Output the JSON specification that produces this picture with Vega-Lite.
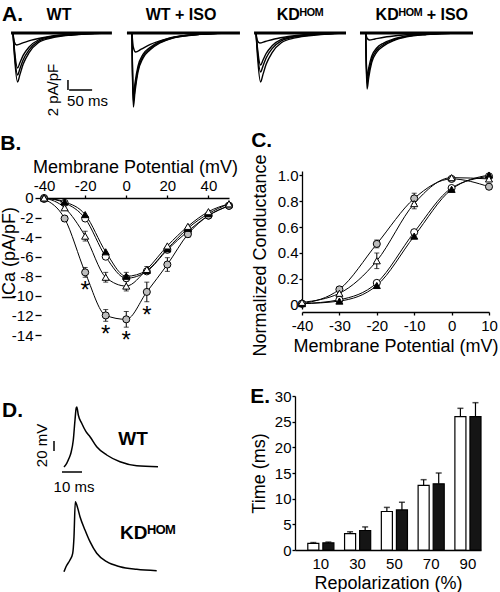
{
"$schema": "https://vega.github.io/schema/vega-lite/v6.json",
"padding": 0,
"config": {
 "view": {"stroke": null},
 "font": "Liberation Sans",
 "axis": {"labelFontSize": 15, "titleFontSize": 18, "titleFontWeight": "normal", "labelColor": "#000", "titleColor": "#000", "domainColor": "#000", "tickColor": "#000", "grid": false, "tickSize": 3, "labelPadding": 1, "titlePadding": 3, "domainWidth": 1.3, "tickWidth": 1.3, "labelOverlap": false, "labelFlush": false},
 "title": {"fontSize": 21, "fontWeight": "bold", "anchor": "start", "color": "#000", "frame": "bounds"}
},
"datasets": {
 "curA": [
  {"p":"WT","k":1,"t":0,"i":0},{"p":"WT","k":1,"t":3,"i":-4.41},{"p":"WT","k":1,"t":10,"i":-9.8},{"p":"WT","k":1,"t":15,"i":-8.33},{"p":"WT","k":1,"t":22,"i":-6.27},{"p":"WT","k":1,"t":35,"i":-3.92},{"p":"WT","k":1,"t":55,"i":-1.96},{"p":"WT","k":1,"t":85,"i":-0.98},{"p":"WT","k":1,"t":130,"i":-0.39},{"p":"WT","k":1,"t":200,"i":0},
  {"p":"WT","k":2,"t":0,"i":0},{"p":"WT","k":2,"t":3,"i":-3.78},{"p":"WT","k":2,"t":10,"i":-8.4},{"p":"WT","k":2,"t":15,"i":-7.14},{"p":"WT","k":2,"t":22,"i":-5.38},{"p":"WT","k":2,"t":35,"i":-3.36},{"p":"WT","k":2,"t":55,"i":-1.68},{"p":"WT","k":2,"t":85,"i":-0.84},{"p":"WT","k":2,"t":130,"i":-0.34},{"p":"WT","k":2,"t":200,"i":0},
  {"p":"WT","k":3,"t":0,"i":0},{"p":"WT","k":3,"t":3,"i":-3.15},{"p":"WT","k":3,"t":10,"i":-7.0},{"p":"WT","k":3,"t":15,"i":-5.95},{"p":"WT","k":3,"t":22,"i":-4.48},{"p":"WT","k":3,"t":35,"i":-2.8},{"p":"WT","k":3,"t":55,"i":-1.4},{"p":"WT","k":3,"t":85,"i":-0.7},{"p":"WT","k":3,"t":130,"i":-0.28},{"p":"WT","k":3,"t":200,"i":0},
  {"p":"WT","k":4,"t":0,"i":0},{"p":"WT","k":4,"t":3,"i":-1.8},{"p":"WT","k":4,"t":8,"i":-2.4},{"p":"WT","k":4,"t":20,"i":-2.04},{"p":"WT","k":4,"t":40,"i":-1.44},{"p":"WT","k":4,"t":70,"i":-0.84},{"p":"WT","k":4,"t":110,"i":-0.36},{"p":"WT","k":4,"t":160,"i":-0.12},{"p":"WT","k":4,"t":210,"i":0},
  {"p":"KD","k":1,"t":0,"i":0},{"p":"KD","k":1,"t":3,"i":-4.41},{"p":"KD","k":1,"t":10,"i":-9.8},{"p":"KD","k":1,"t":15,"i":-8.33},{"p":"KD","k":1,"t":22,"i":-6.27},{"p":"KD","k":1,"t":35,"i":-3.92},{"p":"KD","k":1,"t":55,"i":-1.96},{"p":"KD","k":1,"t":85,"i":-0.98},{"p":"KD","k":1,"t":130,"i":-0.39},{"p":"KD","k":1,"t":190,"i":0},
  {"p":"KD","k":2,"t":0,"i":0},{"p":"KD","k":2,"t":3,"i":-3.51},{"p":"KD","k":2,"t":10,"i":-7.8},{"p":"KD","k":2,"t":15,"i":-6.63},{"p":"KD","k":2,"t":22,"i":-4.99},{"p":"KD","k":2,"t":35,"i":-3.12},{"p":"KD","k":2,"t":55,"i":-1.56},{"p":"KD","k":2,"t":85,"i":-0.78},{"p":"KD","k":2,"t":130,"i":-0.31},{"p":"KD","k":2,"t":190,"i":0},
  {"p":"KD","k":3,"t":0,"i":0},{"p":"KD","k":3,"t":3,"i":-2.88},{"p":"KD","k":3,"t":10,"i":-6.4},{"p":"KD","k":3,"t":15,"i":-5.44},{"p":"KD","k":3,"t":22,"i":-4.1},{"p":"KD","k":3,"t":35,"i":-2.56},{"p":"KD","k":3,"t":55,"i":-1.28},{"p":"KD","k":3,"t":85,"i":-0.64},{"p":"KD","k":3,"t":130,"i":-0.26},{"p":"KD","k":3,"t":190,"i":0},
  {"p":"KD","k":4,"t":0,"i":0},{"p":"KD","k":4,"t":3,"i":-1.5},{"p":"KD","k":4,"t":8,"i":-2.0},{"p":"KD","k":4,"t":20,"i":-1.7},{"p":"KD","k":4,"t":40,"i":-1.2},{"p":"KD","k":4,"t":70,"i":-0.7},{"p":"KD","k":4,"t":110,"i":-0.3},{"p":"KD","k":4,"t":150,"i":-0.1},{"p":"KD","k":4,"t":190,"i":0},
  {"p":"WTI","k":1,"t":0,"i":0},{"p":"WTI","k":1,"t":1,"i":-7.4},{"p":"WTI","k":1,"t":3,"i":-14.8},{"p":"WTI","k":1,"t":6.5,"i":-11.84},{"p":"WTI","k":1,"t":13,"i":-7.84},{"p":"WTI","k":1,"t":24,"i":-5.03},{"p":"WTI","k":1,"t":39,"i":-3.4},{"p":"WTI","k":1,"t":61,"i":-2.0},{"p":"WTI","k":1,"t":89,"i":-1.01},{"p":"WTI","k":1,"t":133,"i":-0.4},{"p":"WTI","k":1,"t":210,"i":0},
  {"p":"WTI","k":2,"t":0,"i":0},{"p":"WTI","k":2,"t":1,"i":-6.9},{"p":"WTI","k":2,"t":3,"i":-13.8},{"p":"WTI","k":2,"t":6.5,"i":-11.04},{"p":"WTI","k":2,"t":13,"i":-7.31},{"p":"WTI","k":2,"t":24,"i":-4.69},{"p":"WTI","k":2,"t":39,"i":-3.17},{"p":"WTI","k":2,"t":61,"i":-1.86},{"p":"WTI","k":2,"t":89,"i":-0.94},{"p":"WTI","k":2,"t":133,"i":-0.37},{"p":"WTI","k":2,"t":210,"i":0},
  {"p":"WTI","k":3,"t":0,"i":0},{"p":"WTI","k":3,"t":1,"i":-6.3},{"p":"WTI","k":3,"t":3,"i":-12.6},{"p":"WTI","k":3,"t":6.5,"i":-10.08},{"p":"WTI","k":3,"t":13,"i":-6.68},{"p":"WTI","k":3,"t":24,"i":-4.28},{"p":"WTI","k":3,"t":39,"i":-2.9},{"p":"WTI","k":3,"t":61,"i":-1.7},{"p":"WTI","k":3,"t":89,"i":-0.86},{"p":"WTI","k":3,"t":133,"i":-0.34},{"p":"WTI","k":3,"t":210,"i":0},
  {"p":"WTI","k":4,"t":0,"i":0},{"p":"WTI","k":4,"t":3,"i":-2.85},{"p":"WTI","k":4,"t":8,"i":-3.8},{"p":"WTI","k":4,"t":20,"i":-3.23},{"p":"WTI","k":4,"t":40,"i":-2.28},{"p":"WTI","k":4,"t":70,"i":-1.33},{"p":"WTI","k":4,"t":110,"i":-0.57},{"p":"WTI","k":4,"t":160,"i":-0.19},{"p":"WTI","k":4,"t":210,"i":0},
  {"p":"KDI","k":1,"t":0,"i":0},{"p":"KDI","k":1,"t":1,"i":-5.6},{"p":"KDI","k":1,"t":3,"i":-11.2},{"p":"KDI","k":1,"t":6.5,"i":-8.96},{"p":"KDI","k":1,"t":13,"i":-5.94},{"p":"KDI","k":1,"t":24,"i":-3.81},{"p":"KDI","k":1,"t":39,"i":-2.58},{"p":"KDI","k":1,"t":61,"i":-1.51},{"p":"KDI","k":1,"t":89,"i":-0.76},{"p":"KDI","k":1,"t":133,"i":-0.3},{"p":"KDI","k":1,"t":210,"i":0},
  {"p":"KDI","k":2,"t":0,"i":0},{"p":"KDI","k":2,"t":1,"i":-5.0},{"p":"KDI","k":2,"t":3,"i":-10.0},{"p":"KDI","k":2,"t":6.5,"i":-8.0},{"p":"KDI","k":2,"t":13,"i":-5.3},{"p":"KDI","k":2,"t":24,"i":-3.4},{"p":"KDI","k":2,"t":39,"i":-2.3},{"p":"KDI","k":2,"t":61,"i":-1.35},{"p":"KDI","k":2,"t":89,"i":-0.68},{"p":"KDI","k":2,"t":133,"i":-0.27},{"p":"KDI","k":2,"t":210,"i":0},
  {"p":"KDI","k":3,"t":0,"i":0},{"p":"KDI","k":3,"t":1,"i":-4.4},{"p":"KDI","k":3,"t":3,"i":-8.8},{"p":"KDI","k":3,"t":6.5,"i":-7.04},{"p":"KDI","k":3,"t":13,"i":-4.66},{"p":"KDI","k":3,"t":24,"i":-2.99},{"p":"KDI","k":3,"t":39,"i":-2.02},{"p":"KDI","k":3,"t":61,"i":-1.19},{"p":"KDI","k":3,"t":89,"i":-0.6},{"p":"KDI","k":3,"t":133,"i":-0.24},{"p":"KDI","k":3,"t":210,"i":0},
  {"p":"KDI","k":4,"t":0,"i":0},{"p":"KDI","k":4,"t":3,"i":-1.05},{"p":"KDI","k":4,"t":8,"i":-1.4},{"p":"KDI","k":4,"t":20,"i":-1.19},{"p":"KDI","k":4,"t":40,"i":-0.84},{"p":"KDI","k":4,"t":70,"i":-0.49},{"p":"KDI","k":4,"t":110,"i":-0.21},{"p":"KDI","k":4,"t":160,"i":-0.07},{"p":"KDI","k":4,"t":210,"i":0}
 ],
 "baseA": [
  {"p":"WT","t":-4.3,"i":0},{"p":"WT","t":215,"i":0},
  {"p":"WTI","t":-10.9,"i":0},{"p":"WTI","t":234.8,"i":0},
  {"p":"KD","t":-4.3,"i":0},{"p":"KD","t":195.6,"i":0},
  {"p":"KDI","t":-12.4,"i":0},{"p":"KDI","t":233.3,"i":0}
 ],
 "ivB": [
  {"s":"WT","v":-40,"i":0},{"s":"WT","v":-30,"i":-0.5},{"s":"WT","v":-20,"i":-2.1},{"s":"WT","v":-10,"i":-6.0},{"s":"WT","v":0,"i":-8.2},{"s":"WT","v":10,"i":-7.5},{"s":"WT","v":20,"i":-5.3},{"s":"WT","v":30,"i":-3.4},{"s":"WT","v":40,"i":-1.8},{"s":"WT","v":50,"i":-0.8},
  {"s":"WT + ISO","v":-40,"i":-0.1},{"s":"WT + ISO","v":-30,"i":-2.1,"lo":-2.4,"hi":-1.8},{"s":"WT + ISO","v":-20,"i":-7.6,"lo":-8.1,"hi":-7.1,"sig":true},{"s":"WT + ISO","v":-10,"i":-12.0,"lo":-12.6,"hi":-11.4,"sig":true},{"s":"WT + ISO","v":0,"i":-12.4,"lo":-13.2,"hi":-11.6,"sig":true},{"s":"WT + ISO","v":10,"i":-9.6,"lo":-10.6,"hi":-8.6,"sig":true},{"s":"WT + ISO","v":20,"i":-6.8,"lo":-7.5,"hi":-6.1},{"s":"WT + ISO","v":30,"i":-3.7,"lo":-4.0,"hi":-3.4},{"s":"WT + ISO","v":40,"i":-1.8},{"s":"WT + ISO","v":50,"i":-0.8},
  {"s":"KD","v":-40,"i":0},{"s":"KD","v":-30,"i":-0.4},{"s":"KD","v":-20,"i":-1.7},{"s":"KD","v":-10,"i":-5.5},{"s":"KD","v":0,"i":-8.0,"lo":-8.4,"hi":-7.6},{"s":"KD","v":10,"i":-7.4},{"s":"KD","v":20,"i":-5.2},{"s":"KD","v":30,"i":-3.1},{"s":"KD","v":40,"i":-1.6},{"s":"KD","v":50,"i":-0.6},
  {"s":"KD + ISO","v":-40,"i":0},{"s":"KD + ISO","v":-30,"i":-1.0},{"s":"KD + ISO","v":-20,"i":-3.9,"lo":-4.4,"hi":-3.4},{"s":"KD + ISO","v":-10,"i":-8.1,"lo":-8.6,"hi":-7.6},{"s":"KD + ISO","v":0,"i":-9.0,"lo":-9.5,"hi":-8.5},{"s":"KD + ISO","v":10,"i":-7.3,"lo":-7.6,"hi":-7.0},{"s":"KD + ISO","v":20,"i":-4.9},{"s":"KD + ISO","v":30,"i":-2.9},{"s":"KD + ISO","v":40,"i":-1.4},{"s":"KD + ISO","v":50,"i":-0.6}
 ],
 "gC": [
  {"s":"WT","v":-40,"g":0.01},{"s":"WT","v":-30,"g":0.04},{"s":"WT","v":-20,"g":0.17},{"s":"WT","v":-10,"g":0.56},{"s":"WT","v":0,"g":0.90},{"s":"WT","v":10,"g":0.99},
  {"s":"WT + ISO","v":-40,"g":0.01},{"s":"WT + ISO","v":-30,"g":0.12,"lo":0.10,"hi":0.14},{"s":"WT + ISO","v":-20,"g":0.47,"lo":0.44,"hi":0.50},{"s":"WT + ISO","v":-10,"g":0.82,"lo":0.78,"hi":0.86},{"s":"WT + ISO","v":0,"g":0.97},{"s":"WT + ISO","v":10,"g":0.91,"lo":0.89,"hi":0.93},
  {"s":"KD","v":-40,"g":0.01},{"s":"KD","v":-30,"g":0.03},{"s":"KD","v":-20,"g":0.15},{"s":"KD","v":-10,"g":0.53},{"s":"KD","v":0,"g":0.89},{"s":"KD","v":10,"g":1.0},
  {"s":"KD + ISO","v":-40,"g":0.02},{"s":"KD + ISO","v":-30,"g":0.09},{"s":"KD + ISO","v":-20,"g":0.34,"lo":0.28,"hi":0.40},{"s":"KD + ISO","v":-10,"g":0.78,"lo":0.74,"hi":0.82},{"s":"KD + ISO","v":0,"g":0.98},{"s":"KD + ISO","v":10,"g":0.97}
 ],
 "apdE": [
  {"r":"10","g":"WT","v":1.3,"hi":1.45},{"r":"10","g":"KD","v":1.4,"hi":1.55},
  {"r":"30","g":"WT","v":3.2,"hi":3.55},{"r":"30","g":"KD","v":3.8,"hi":4.5},
  {"r":"50","g":"WT","v":7.5,"hi":8.3},{"r":"50","g":"KD","v":7.8,"hi":9.3},
  {"r":"70","g":"WT","v":12.6,"hi":13.7},{"r":"70","g":"KD","v":12.9,"hi":15.0},
  {"r":"90","g":"WT","v":26.0,"hi":27.6},{"r":"90","g":"KD","v":26.0,"hi":28.7}
 ],
 "apWT": [
  {"t":0,"V":-80},{"t":1.35,"V":-72.6},{"t":2.5,"V":-62.6},{"t":3.5,"V":-51.4},{"t":4.65,"V":-26},{"t":5.5,"V":14},{"t":6.1,"V":38},{"t":6.4,"V":40},{"t":7.15,"V":24},{"t":8.85,"V":7.4},{"t":11,"V":-9.4},{"t":13,"V":-19.4},{"t":16.35,"V":-39.4},{"t":21.35,"V":-56},{"t":28,"V":-69.4},{"t":36.35,"V":-77.4},{"t":47,"V":-79.4}
 ],
 "apKD": [
  {"t":0,"V":-80},{"t":1,"V":-70},{"t":3,"V":-56.6},{"t":4.35,"V":-43.2},{"t":5,"V":-10},{"t":5.65,"V":60},{"t":6.65,"V":50},{"t":8,"V":30},{"t":10.5,"V":3.4},{"t":13,"V":-20},{"t":16.35,"V":-43.2},{"t":21.35,"V":-60},{"t":28,"V":-70},{"t":36.35,"V":-75.2},{"t":46.35,"V":-78}
 ]
},
"spacing": 12,
"resolve": {"scale": {"x": "independent", "y": "independent", "fill": "independent", "shape": "independent", "xOffset": "independent"}},
"vconcat": [
 {
  "spacing": 0,
  "resolve": {"scale": {"x": "independent", "y": "independent"}},
  "hconcat": [
   {
    "width": 79, "height": 110,
    "layer": [
     {"data": {"name": "baseA"}, "transform": [{"filter": "datum.p == 'WT'"}], "mark": {"type": "line", "color": "black", "strokeWidth": 3}, "encoding": {"x": {"field": "t", "type": "quantitative", "scale": {"domain": [60.87, 232.6], "nice": false, "zero": false}, "axis": null}, "y": {"field": "i", "type": "quantitative", "scale": {"domain": [-15.4, 6.6], "nice": false, "zero": false}, "axis": null}}},
     {"data": {"name": "curA"}, "transform": [{"filter": "datum.p == 'WT'"}], "mark": {"type": "line", "color": "black", "strokeWidth": 1.4, "interpolate": "monotone"}, "encoding": {"x": {"field": "t", "type": "quantitative"}, "y": {"field": "i", "type": "quantitative"}, "detail": {"field": "k", "type": "nominal"}}},
     {"data": {"values": [{}]}, "mark": {"type": "rule", "color": "black", "strokeWidth": 1.5}, "encoding": {"x": {"datum": 119.5, "type": "quantitative"}, "y": {"datum": -9.4, "type": "quantitative"}, "y2": {"datum": -11.4}}},
     {"data": {"values": [{}]}, "mark": {"type": "rule", "color": "black", "strokeWidth": 1.5}, "encoding": {"x": {"datum": 122, "type": "quantitative"}, "x2": {"datum": 172}, "y": {"datum": -11.4, "type": "quantitative"}}},
     {"data": {"values": [{}]}, "mark": {"type": "text", "text": "2 pA/pF", "angle": 270, "fontSize": 15, "baseline": "middle", "align": "center"}, "encoding": {"x": {"datum": 87, "type": "quantitative"}, "y": {"datum": -11.4, "type": "quantitative"}}},
     {"data": {"values": [{}]}, "mark": {"type": "text", "text": "50 ms", "fontSize": 15, "baseline": "middle", "align": "center"}, "encoding": {"x": {"datum": 162, "type": "quantitative"}, "y": {"datum": -13.6, "type": "quantitative"}}},
     {"data": {"values": [{}]}, "mark": {"type": "text", "text": "A.", "fontSize": 21, "fontWeight": "bold", "baseline": "middle", "align": "left"}, "encoding": {"x": {"datum": -23.9, "type": "quantitative"}, "y": {"datum": 3.6, "type": "quantitative"}}},
     {"data": {"values": [{}]}, "mark": {"type": "text", "text": "WT", "fontSize": 16, "fontWeight": "bold", "baseline": "middle", "align": "center"}, "encoding": {"x": {"datum": 100, "type": "quantitative"}, "y": {"datum": 3.6, "type": "quantitative"}}}
    ]
   },
   {
    "width": 128, "height": 110,
    "layer": [
     {"data": {"name": "baseA"}, "transform": [{"filter": "datum.p == 'WTI'"}], "mark": {"type": "line", "color": "black", "strokeWidth": 3}, "encoding": {"x": {"field": "t", "type": "quantitative", "scale": {"domain": [-26, 252.3], "nice": false, "zero": false}, "axis": null}, "y": {"field": "i", "type": "quantitative", "scale": {"domain": [-15.4, 6.6], "nice": false, "zero": false}, "axis": null}}},
     {"data": {"name": "curA"}, "transform": [{"filter": "datum.p == 'WTI'"}], "mark": {"type": "line", "color": "black", "strokeWidth": 1.4, "interpolate": "monotone"}, "encoding": {"x": {"field": "t", "type": "quantitative"}, "y": {"field": "i", "type": "quantitative"}, "detail": {"field": "k", "type": "nominal"}}},
     {"data": {"values": [{}]}, "mark": {"type": "text", "text": "WT + ISO", "fontSize": 16, "fontWeight": "bold", "baseline": "middle", "align": "center"}, "encoding": {"x": {"datum": 106.6, "type": "quantitative"}, "y": {"datum": 3.6, "type": "quantitative"}}}
    ]
   },
   {
    "width": 102, "height": 110,
    "layer": [
     {"data": {"name": "baseA"}, "transform": [{"filter": "datum.p == 'KD'"}], "mark": {"type": "line", "color": "black", "strokeWidth": 3}, "encoding": {"x": {"field": "t", "type": "quantitative", "scale": {"domain": [-10.9, 210.8], "nice": false, "zero": false}, "axis": null}, "y": {"field": "i", "type": "quantitative", "scale": {"domain": [-15.4, 6.6], "nice": false, "zero": false}, "axis": null}}},
     {"data": {"name": "curA"}, "transform": [{"filter": "datum.p == 'KD'"}], "mark": {"type": "line", "color": "black", "strokeWidth": 1.4, "interpolate": "monotone"}, "encoding": {"x": {"field": "t", "type": "quantitative"}, "y": {"field": "i", "type": "quantitative"}, "detail": {"field": "k", "type": "nominal"}}},
     {"data": {"values": [{}]}, "mark": {"type": "text", "text": "KDᴴᴼᴹ", "fontSize": 16, "fontWeight": "bold", "baseline": "middle", "align": "center"}, "encoding": {"x": {"datum": 95.5, "type": "quantitative"}, "y": {"datum": 3.6, "type": "quantitative"}}}
    ]
   },
   {
    "width": 150, "height": 110,
    "layer": [
     {"data": {"name": "baseA"}, "transform": [{"filter": "datum.p == 'KDI'"}], "mark": {"type": "line", "color": "black", "strokeWidth": 3}, "encoding": {"x": {"field": "t", "type": "quantitative", "scale": {"domain": [-27.6, 298.5], "nice": false, "zero": false}, "axis": null}, "y": {"field": "i", "type": "quantitative", "scale": {"domain": [-15.4, 6.6], "nice": false, "zero": false}, "axis": null}}},
     {"data": {"name": "curA"}, "transform": [{"filter": "datum.p == 'KDI'"}], "mark": {"type": "line", "color": "black", "strokeWidth": 1.4, "interpolate": "monotone"}, "encoding": {"x": {"field": "t", "type": "quantitative"}, "y": {"field": "i", "type": "quantitative"}, "detail": {"field": "k", "type": "nominal"}}},
     {"data": {"values": [{}]}, "mark": {"type": "text", "text": "KDᴴᴼᴹ + ISO", "fontSize": 16, "fontWeight": "bold", "baseline": "middle", "align": "center"}, "encoding": {"x": {"datum": 122, "type": "quantitative"}, "y": {"datum": 3.6, "type": "quantitative"}}}
    ]
   }
  ]
 },
 {
  "spacing": 29,
  "resolve": {"scale": {"x": "independent", "y": "independent", "fill": "independent", "shape": "independent", "xOffset": "independent"}},
  "vconcat": [
   {
    "spacing": 13,
    "resolve": {"scale": {"x": "independent", "y": "independent", "fill": "independent", "shape": "independent"}},
    "hconcat": [
     {
      "width": 188, "height": 164,
      "title": {"text": "B.", "offset": 4},
      "data": {"name": "ivB"},
      "encoding": {"x": {"field": "v", "type": "quantitative", "scale": {"domain": [-41.5, 50], "nice": false, "zero": false}, "axis": {"orient": "top", "offset": -27, "values": [-40, -20, 0, 20, 40], "labelExpr": "datum.value", "labelPadding": 2, "titlePadding": 2, "title": "Membrane Potential (mV)"}}},
      "layer": [
       {"data": {"values": [{}]}, "mark": {"type": "rule", "color": "black", "strokeWidth": 1.3}, "encoding": {"x": {"datum": -41.5, "type": "quantitative"}, "y": {"datum": 0, "type": "quantitative", "scale": {"domain": [-14, 2.755], "nice": false, "zero": false}, "axis": {"values": [0, -2, -4, -6, -8, -10, -12, -14], "domain": false, "labelExpr": "datum.value", "tickSize": 6, "labelPadding": 2, "titlePadding": -7, "title": "ICa (pA/pF)"}}, "y2": {"datum": -14}}},
       {"mark": {"type": "line", "interpolate": "monotone", "color": "black", "strokeWidth": 1}, "encoding": {"y": {"field": "i", "type": "quantitative", "scale": {"domain": [-14, 2.755], "nice": false, "zero": false}, "axis": {"values": [0, -2, -4, -6, -8, -10, -12, -14], "domain": false, "labelExpr": "datum.value", "tickSize": 6, "labelPadding": 2, "titlePadding": -7, "title": "ICa (pA/pF)"}}, "detail": {"field": "s", "type": "nominal"}}},
       {"transform": [{"filter": "isValid(datum.lo)"}], "mark": {"type": "rule", "color": "black", "strokeWidth": 1}, "encoding": {"y": {"field": "lo", "type": "quantitative", "scale": {"domain": [-14, 2.755], "nice": false, "zero": false}, "axis": {"values": [0, -2, -4, -6, -8, -10, -12, -14], "domain": false, "labelExpr": "datum.value", "tickSize": 6, "labelPadding": 2, "titlePadding": -7, "title": "ICa (pA/pF)"}}, "y2": {"field": "hi"}}},
       {"transform": [{"filter": "isValid(datum.lo)"}], "mark": {"type": "tick", "orient": "horizontal", "size": 5, "thickness": 1, "color": "black"}, "encoding": {"y": {"field": "lo", "type": "quantitative", "scale": {"domain": [-14, 2.755], "nice": false, "zero": false}, "axis": {"values": [0, -2, -4, -6, -8, -10, -12, -14], "domain": false, "labelExpr": "datum.value", "tickSize": 6, "labelPadding": 2, "titlePadding": -7, "title": "ICa (pA/pF)"}}}},
       {"transform": [{"filter": "isValid(datum.hi)"}], "mark": {"type": "tick", "orient": "horizontal", "size": 5, "thickness": 1, "color": "black"}, "encoding": {"y": {"field": "hi", "type": "quantitative", "scale": {"domain": [-14, 2.755], "nice": false, "zero": false}, "axis": {"values": [0, -2, -4, -6, -8, -10, -12, -14], "domain": false, "labelExpr": "datum.value", "tickSize": 6, "labelPadding": 2, "titlePadding": -7, "title": "ICa (pA/pF)"}}}},
       {"mark": {"type": "point", "filled": true, "size": 50, "stroke": "black", "strokeWidth": 1, "opacity": 1}, "encoding": {"y": {"field": "i", "type": "quantitative", "scale": {"domain": [-14, 2.755], "nice": false, "zero": false}, "axis": {"values": [0, -2, -4, -6, -8, -10, -12, -14], "domain": false, "labelExpr": "datum.value", "tickSize": 6, "labelPadding": 2, "titlePadding": -7, "title": "ICa (pA/pF)"}}, "shape": {"field": "s", "type": "nominal", "scale": {"domain": ["WT", "WT + ISO", "KD", "KD + ISO"], "range": ["circle", "circle", "triangle-up", "triangle-up"]}, "legend": null}, "fill": {"field": "s", "type": "nominal", "scale": {"domain": ["WT", "WT + ISO", "KD", "KD + ISO"], "range": ["#ffffff", "#bdbdbd", "#000000", "#ffffff"]}, "legend": null}}},
       {"transform": [{"filter": "datum.sig"}], "mark": {"type": "text", "text": "*", "fontSize": 24, "baseline": "top", "dy": 2}, "encoding": {"y": {"field": "lo", "type": "quantitative", "scale": {"domain": [-14, 2.755], "nice": false, "zero": false}, "axis": {"values": [0, -2, -4, -6, -8, -10, -12, -14], "domain": false, "labelExpr": "datum.value", "tickSize": 6, "labelPadding": 2, "titlePadding": -7, "title": "ICa (pA/pF)"}}}}
      ]
     },
     {
      "width": 187, "height": 138,
      "title": {"text": "C.", "offset": 3},
      "data": {"name": "gC"},
      "encoding": {"x": {"field": "v", "type": "quantitative", "scale": {"domain": [-40, 10], "nice": false, "zero": false}, "axis": {"values": [-40, -30, -20, -10, 0, 10], "labelExpr": "datum.value", "offset": 3, "labelPadding": 3, "titlePadding": 4, "title": "Membrane Potential (mV)"}}},
      "layer": [
       {"mark": {"type": "line", "interpolate": "monotone", "color": "black", "strokeWidth": 1}, "encoding": {"y": {"field": "g", "type": "quantitative", "scale": {"domain": [-0.031, 1.031], "nice": false, "zero": false}, "axis": {"values": [0, 0.2, 0.4, 0.6, 0.8, 1], "labelExpr": "datum.value == 0 ? '0' : format(datum.value, '.1f')", "titlePadding": 8, "title": "Normalized Conductance", "titleY": 84}}, "detail": {"field": "s", "type": "nominal"}}},
       {"transform": [{"filter": "isValid(datum.lo)"}], "mark": {"type": "rule", "color": "black", "strokeWidth": 1}, "encoding": {"y": {"field": "lo", "type": "quantitative", "scale": {"domain": [-0.031, 1.031], "nice": false, "zero": false}, "axis": {"values": [0, 0.2, 0.4, 0.6, 0.8, 1], "labelExpr": "datum.value == 0 ? '0' : format(datum.value, '.1f')", "titlePadding": 8, "title": "Normalized Conductance", "titleY": 84}}, "y2": {"field": "hi"}}},
       {"transform": [{"filter": "isValid(datum.lo)"}], "mark": {"type": "tick", "orient": "horizontal", "size": 5, "thickness": 1, "color": "black"}, "encoding": {"y": {"field": "lo", "type": "quantitative", "scale": {"domain": [-0.031, 1.031], "nice": false, "zero": false}, "axis": {"values": [0, 0.2, 0.4, 0.6, 0.8, 1], "labelExpr": "datum.value == 0 ? '0' : format(datum.value, '.1f')", "titlePadding": 8, "title": "Normalized Conductance", "titleY": 84}}}},
       {"transform": [{"filter": "isValid(datum.hi)"}], "mark": {"type": "tick", "orient": "horizontal", "size": 5, "thickness": 1, "color": "black"}, "encoding": {"y": {"field": "hi", "type": "quantitative", "scale": {"domain": [-0.031, 1.031], "nice": false, "zero": false}, "axis": {"values": [0, 0.2, 0.4, 0.6, 0.8, 1], "labelExpr": "datum.value == 0 ? '0' : format(datum.value, '.1f')", "titlePadding": 8, "title": "Normalized Conductance", "titleY": 84}}}},
       {"mark": {"type": "point", "filled": true, "size": 50, "stroke": "black", "strokeWidth": 1, "opacity": 1}, "encoding": {"y": {"field": "g", "type": "quantitative", "scale": {"domain": [-0.031, 1.031], "nice": false, "zero": false}, "axis": {"values": [0, 0.2, 0.4, 0.6, 0.8, 1], "labelExpr": "datum.value == 0 ? '0' : format(datum.value, '.1f')", "titlePadding": 8, "title": "Normalized Conductance", "titleY": 84}}, "shape": {"field": "s", "type": "nominal", "scale": {"domain": ["WT", "WT + ISO", "KD", "KD + ISO"], "range": ["circle", "circle", "triangle-up", "triangle-up"]}, "legend": null}, "fill": {"field": "s", "type": "nominal", "scale": {"domain": ["WT", "WT + ISO", "KD", "KD + ISO"], "range": ["#ffffff", "#bdbdbd", "#000000", "#ffffff"]}, "legend": null}}}
      ]
     }
    ]
   },
   {
    "spacing": 70,
    "resolve": {"scale": {"x": "independent", "y": "independent", "fill": "independent", "xOffset": "independent"}},
    "hconcat": [
     {
      "spacing": 0,
      "resolve": {"scale": {"x": "independent", "y": "independent"}},
      "vconcat": [
       {
        "width": 139, "height": 99,
        "layer": [
         {"data": {"name": "apWT"}, "mark": {"type": "line", "color": "black", "strokeWidth": 1.5, "interpolate": "monotone"}, "encoding": {"x": {"field": "t", "type": "quantitative", "scale": {"domain": [-11.5, 58], "nice": false, "zero": false}, "axis": null}, "y": {"field": "V", "type": "quantitative", "scale": {"domain": [-136, 62], "nice": false, "zero": false}, "axis": null}}},
         {"data": {"values": [{}]}, "mark": {"type": "rule", "color": "black", "strokeWidth": 1.5}, "encoding": {"x": {"datum": -5, "type": "quantitative"}, "y": {"datum": -28, "type": "quantitative"}, "y2": {"datum": -48}}},
         {"data": {"values": [{}]}, "mark": {"type": "rule", "color": "black", "strokeWidth": 1.5}, "encoding": {"x": {"datum": -1, "type": "quantitative"}, "x2": {"datum": 9}, "y": {"datum": -90, "type": "quantitative"}}},
         {"data": {"values": [{}]}, "mark": {"type": "text", "text": "20 mV", "angle": 270, "fontSize": 15, "align": "center", "baseline": "middle"}, "encoding": {"x": {"datum": -10.8, "type": "quantitative"}, "y": {"datum": -37, "type": "quantitative"}}},
         {"data": {"values": [{}]}, "mark": {"type": "text", "text": "10 ms", "fontSize": 15, "align": "center", "baseline": "middle"}, "encoding": {"x": {"datum": 5, "type": "quantitative"}, "y": {"datum": -120, "type": "quantitative"}}},
         {"data": {"values": [{}]}, "mark": {"type": "text", "text": "WT", "fontSize": 19, "fontWeight": "bold", "align": "center", "baseline": "middle"}, "encoding": {"x": {"datum": 34.5, "type": "quantitative"}, "y": {"datum": -24, "type": "quantitative"}}},
         {"data": {"values": [{}]}, "mark": {"type": "text", "text": "D.", "fontSize": 21, "fontWeight": "bold", "align": "left", "baseline": "middle"}, "encoding": {"x": {"datum": -31, "type": "quantitative"}, "y": {"datum": 32, "type": "quantitative"}}}
        ]
       },
       {
        "width": 139, "height": 85,
        "layer": [
         {"data": {"name": "apKD"}, "mark": {"type": "line", "color": "black", "strokeWidth": 1.5, "interpolate": "monotone"}, "encoding": {"x": {"field": "t", "type": "quantitative", "scale": {"domain": [-11.5, 58], "nice": false, "zero": false}, "axis": null}, "y": {"field": "V", "type": "quantitative", "scale": {"domain": [-96.6, 73.4], "nice": false, "zero": false}, "axis": null}}},
         {"data": {"values": [{}]}, "mark": {"type": "text", "text": "KDᴴᴼᴹ", "fontSize": 19, "fontWeight": "bold", "align": "left", "baseline": "middle"}, "encoding": {"x": {"datum": 28, "type": "quantitative"}, "y": {"datum": -2.6, "type": "quantitative"}}}
        ]
       }
      ]
     },
     {
      "width": 186, "height": 154,
      "title": {"text": "E.", "offset": -18},
      "data": {"name": "apdE"},
      "encoding": {
       "x": {"field": "r", "type": "nominal", "sort": ["10", "30", "50", "70", "90"], "scale": {"paddingInner": 0.29, "paddingOuter": 0.174, "align": 1}, "axis": {"labelAngle": 0, "ticks": false, "labelPadding": 6, "titlePadding": 3, "title": "Repolarization (%)"}},
       "xOffset": {"field": "g", "type": "nominal", "sort": ["WT", "KD"], "scale": {"paddingInner": 0.267}}
      },
      "layer": [
       {"mark": {"type": "bar", "stroke": "black", "strokeWidth": 1.2}, "encoding": {"y": {"field": "v", "type": "quantitative", "scale": {"domain": [0, 30], "nice": false}, "axis": {"values": [0, 5, 10, 15, 20, 25, 30], "titlePadding": 6, "title": "Time (ms)"}}, "fill": {"field": "g", "type": "nominal", "scale": {"domain": ["WT", "KD"], "range": ["#ffffff", "#151515"]}, "legend": null}}},
       {"mark": {"type": "rule", "color": "black", "strokeWidth": 1.2}, "encoding": {"y": {"field": "v", "type": "quantitative", "scale": {"domain": [0, 30], "nice": false}, "axis": {"values": [0, 5, 10, 15, 20, 25, 30], "titlePadding": 6, "title": "Time (ms)"}}, "y2": {"field": "hi"}}},
       {"mark": {"type": "tick", "orient": "horizontal", "size": 6, "thickness": 1.5, "color": "black"}, "encoding": {"y": {"field": "hi", "type": "quantitative", "scale": {"domain": [0, 30], "nice": false}, "axis": {"values": [0, 5, 10, 15, 20, 25, 30], "titlePadding": 6, "title": "Time (ms)"}}}}
      ]
     }
    ]
   }
  ]
 }
]
}
